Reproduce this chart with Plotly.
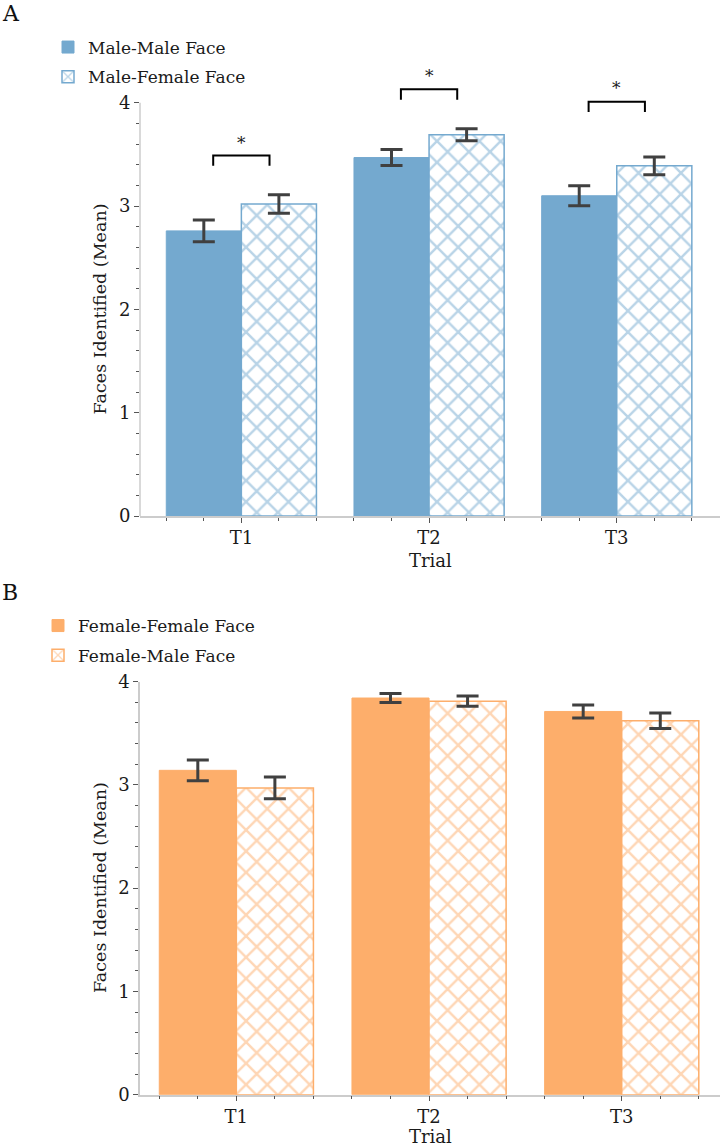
import plotly.graph_objects as go

# ---------------- data ----------------
trials = ["T1", "T2", "T3"]
trial_pos = [0, 1, 2]

mm_mean = [2.76, 3.47, 3.10]
mm_err = [0.105, 0.077, 0.097]
mf_mean = [3.02, 3.69, 3.39]
mf_err = [0.090, 0.058, 0.086]

ff_mean = [3.14, 3.84, 3.71]
ff_err = [0.100, 0.043, 0.063]
fm_mean = [2.97, 3.81, 3.62]
fm_err = [0.105, 0.050, 0.075]

# significance brackets (panel A)
sig_trial = [0, 1, 2]
bracket_top = [3.49, 4.13, 4.01]
star_y = [3.65, 4.30, 4.18]

BLUE = "#74a9cf"
ORANGE = "#fdae6b"
ERR = "#404040"
FONT = "DejaVu Serif"
W, H = 720, 1146

def py(px):
    return 1 - px / H

fig = go.Figure()

err_style = dict(type="data", color=ERR, thickness=3, width=11)
pat = dict(shape="x", bgcolor="white", size=15, solidity=0.3)

fig.add_trace(go.Bar(
    x=trial_pos, y=mm_mean, name="Male-Male Face",
    marker=dict(color=BLUE, line=dict(color=BLUE, width=1)),
    error_y=dict(array=mm_err, **err_style),
    xaxis="x", yaxis="y", legend="legend", legendgroup="a1"))
fig.add_trace(go.Bar(
    x=trial_pos, y=mf_mean, name="Male-Female Face",
    marker=dict(color="white", line=dict(color=BLUE, width=1.5),
                pattern=dict(fgcolor=BLUE, **pat)),
    error_y=dict(array=mf_err, **err_style),
    xaxis="x", yaxis="y", legend="legend", legendgroup="a2"))

fig.add_trace(go.Bar(
    x=trial_pos, y=ff_mean, name="Female-Female Face",
    marker=dict(color=ORANGE, line=dict(color=ORANGE, width=1)),
    error_y=dict(array=ff_err, **err_style),
    xaxis="x2", yaxis="y2", legend="legend2", legendgroup="b1"))
fig.add_trace(go.Bar(
    x=trial_pos, y=fm_mean, name="Female-Male Face",
    marker=dict(color="white", line=dict(color=ORANGE, width=1.5),
                pattern=dict(fgcolor=ORANGE, **pat)),
    error_y=dict(array=fm_err, **err_style),
    xaxis="x2", yaxis="y2", legend="legend2", legendgroup="b2"))

# brackets
half = 0.15
drop = 0.10
for t, yt in zip(sig_trial, bracket_top):
    fig.add_trace(go.Scatter(
        x=[t - half, t - half, t + half, t + half],
        y=[yt - drop, yt, yt, yt - drop],
        mode="lines", line=dict(color="black", width=2),
        showlegend=False, hoverinfo="skip", xaxis="x", yaxis="y"))

AXC = "#cccccc"
TKC = "#555555"
TXT = "#1a1a1a"
tickfont = dict(family=FONT, size=18, color=TXT)
minor_y = [0.2, 0.4, 0.6, 0.8, 1.2, 1.4, 1.6, 1.8, 2.2, 2.4, 2.6, 2.8,
           3.2, 3.4, 3.6, 3.8]

common_x = dict(tickvals=trial_pos, ticktext=trials, ticks="outside",
                ticklen=5, tickwidth=1, tickcolor=TKC, showgrid=False,
                zeroline=False, showline=True, linecolor=AXC, linewidth=1.5,
                tickfont=tickfont, automargin=False,
                minor=dict(tickmode="linear", tick0=0, dtick=0.2,
                           ticks="outside", ticklen=3, tickcolor=TKC,
                           tickwidth=1))
common_y = dict(tickvals=[0, 1, 2, 3, 4], ticks="outside", ticklen=5,
                tickwidth=1, tickcolor=TKC, showgrid=False, zeroline=False,
                tickfont=tickfont, automargin=False,
                minor=dict(tickmode="array", tickvals=minor_y,
                           ticks="outside", ticklen=3, tickcolor=TKC,
                           tickwidth=1))

legfont = dict(family=FONT, size=17, color=TXT)
fig.update_layout(
    width=W, height=H, margin=dict(l=0, r=0, t=0, b=0),
    paper_bgcolor="white", plot_bgcolor="white",
    font=dict(family=FONT, size=17, color=TXT),
    barmode="group", bargap=0.2, bargroupgap=0,
    xaxis=dict(domain=[140 / W, 1], range=[-0.54, 2.55], anchor="y",
               **common_x),
    yaxis=dict(domain=[py(516), py(56.3)], range=[0, 4.45], anchor="x",
               showline=False, **common_y),
    xaxis2=dict(domain=[140 / W, 1], range=[-0.5, 2.51], anchor="y2",
                **common_x),
    yaxis2=dict(domain=[py(1094.7), py(681.5)], range=[0, 4], anchor="x2",
                showline=True, linecolor=AXC, linewidth=1.5, **common_y),
    legend=dict(x=48 / W, y=py(29.5), xanchor="left", yanchor="top",
                traceorder="grouped", tracegroupgap=4.5,
                font=legfont, bgcolor="rgba(0,0,0,0)"),
    legend2=dict(x=38 / W, y=py(608), xanchor="left", yanchor="top",
                 traceorder="grouped", tracegroupgap=4.5,
                 font=legfont, bgcolor="rgba(0,0,0,0)"),
    showlegend=True,
)

# y-axis line for panel A (only up to 4)
fig.add_shape(type="line", xref="x domain", yref="y", x0=0, x1=0, y0=0, y1=4,
              line=dict(color=AXC, width=1.5), layer="above")

ann = []
for t, ys in zip(sig_trial, star_y):
    ann.append(dict(text="*", xref="x", x=t, yref="y", y=ys,
                    xanchor="center", yanchor="middle", yshift=-4,
                    showarrow=False,
                    font=dict(family=FONT, size=17, color=TXT)))
for yref, yc in (("y", 2), ("y2", 2)):
    ann.append(dict(text="Faces Identified (Mean)", textangle=-90,
                    xref="paper", x=100 / W, xanchor="center",
                    yref=yref, y=yc, yanchor="middle", showarrow=False,
                    font=dict(family=FONT, size=17.5, color=TXT)))
for xr, ypx in (("x domain", 560), ("x2 domain", 1136)):
    ann.append(dict(text="Trial", xref=xr, x=0.5, xanchor="center",
                    yref="paper", y=py(ypx), yanchor="middle",
                    showarrow=False,
                    font=dict(family=FONT, size=18, color=TXT)))
for lab, ypx in (("A", 14), ("B", 592)):
    ann.append(dict(text=lab, xref="paper", x=0, xanchor="left",
                    yref="paper", y=py(ypx), yanchor="middle",
                    showarrow=False,
                    font=dict(family=FONT, size=22, color="#111")))
fig.update_layout(annotations=ann)

fig.write_html("out.html")
